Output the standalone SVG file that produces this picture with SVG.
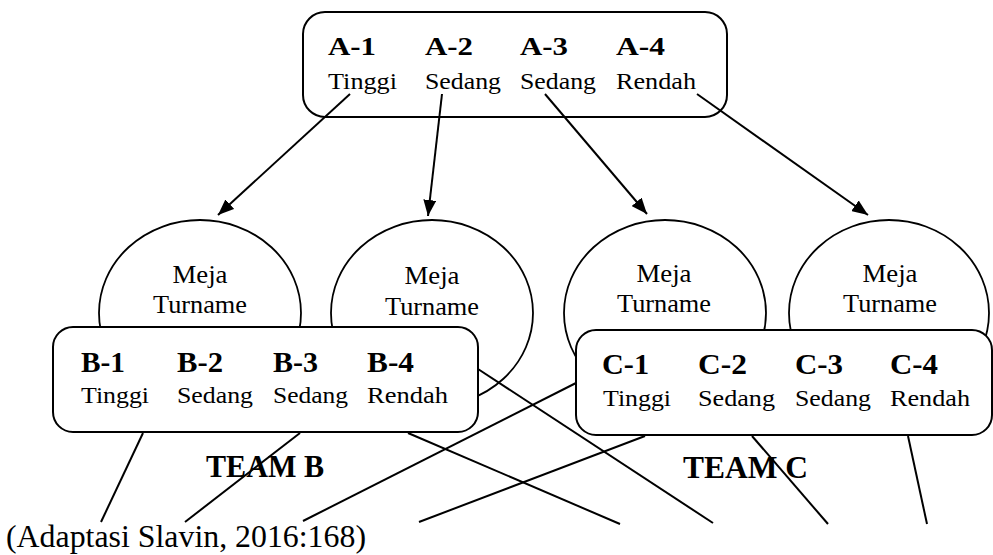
<svg xmlns="http://www.w3.org/2000/svg" width="993" height="555" viewBox="0 0 993 555">
<style>
.box{fill:#fff;stroke:#000;stroke-width:2}
.circ{fill:#fff;stroke:#000;stroke-width:1.8}
.b{font-family:"Liberation Serif","Times New Roman",serif;font-weight:bold;fill:#000}
.r{font-family:"Liberation Serif","Times New Roman",serif;fill:#000}
.ln{stroke:#000;stroke-width:2;fill:none}
.ar{stroke:#000;stroke-width:2;fill:none;marker-end:url(#ah)}
</style>
<defs>
<marker id="ah" markerUnits="userSpaceOnUse" markerWidth="17" markerHeight="13" refX="16" refY="6.5" orient="auto">
<path d="M0,0 L16,6.5 L0,13 z" fill="#000"/>
</marker>
</defs>
<rect width="993" height="555" fill="#fff"/>
<g id="meja1">
<ellipse class="circ" cx="200" cy="313" rx="101" ry="93"/>
<text class="r" x="200" y="283" font-size="25" text-anchor="middle" textLength="55" lengthAdjust="spacingAndGlyphs">Meja</text>
<text class="r" x="200" y="313" font-size="25" text-anchor="middle" textLength="94" lengthAdjust="spacingAndGlyphs">Turname</text>
</g>
<g id="meja2">
<ellipse class="circ" cx="432" cy="313" rx="101" ry="93"/>
<text class="r" x="432" y="284" font-size="25" text-anchor="middle" textLength="55" lengthAdjust="spacingAndGlyphs">Meja</text>
<text class="r" x="432" y="315" font-size="25" text-anchor="middle" textLength="94" lengthAdjust="spacingAndGlyphs">Turname</text>
</g>
<g id="meja3">
<ellipse class="circ" cx="665" cy="313" rx="101" ry="93"/>
<text class="r" x="664" y="282" font-size="25" text-anchor="middle" textLength="55" lengthAdjust="spacingAndGlyphs">Meja</text>
<text class="r" x="664" y="312" font-size="25" text-anchor="middle" textLength="94" lengthAdjust="spacingAndGlyphs">Turname</text>
</g>
<g id="meja4">
<ellipse class="circ" cx="889" cy="313" rx="100" ry="93"/>
<text class="r" x="890" y="282" font-size="25" text-anchor="middle" textLength="55" lengthAdjust="spacingAndGlyphs">Meja</text>
<text class="r" x="890" y="312" font-size="25" text-anchor="middle" textLength="94" lengthAdjust="spacingAndGlyphs">Turname</text>
</g>
<g id="teamA">
<rect class="box" x="303" y="12" width="424" height="105" rx="22"/>
<text class="b" x="328" y="55" font-size="25" textLength="48" lengthAdjust="spacingAndGlyphs">A-1</text>
<text class="b" x="425" y="55" font-size="25" textLength="48" lengthAdjust="spacingAndGlyphs">A-2</text>
<text class="b" x="520" y="55" font-size="25" textLength="48" lengthAdjust="spacingAndGlyphs">A-3</text>
<text class="b" x="616" y="55" font-size="25" textLength="49" lengthAdjust="spacingAndGlyphs">A-4</text>
<text class="r" x="328" y="89" font-size="23" textLength="69" lengthAdjust="spacingAndGlyphs">Tinggi</text>
<text class="r" x="425" y="89" font-size="23" textLength="76" lengthAdjust="spacingAndGlyphs">Sedang</text>
<text class="r" x="520" y="89" font-size="23" textLength="76" lengthAdjust="spacingAndGlyphs">Sedang</text>
<text class="r" x="616" y="89" font-size="23" textLength="80" lengthAdjust="spacingAndGlyphs">Rendah</text>
</g>
<g id="teamB">
<rect class="box" x="53" y="327" width="425" height="105" rx="20"/>
<text class="b" x="81" y="372" font-size="29" textLength="44" lengthAdjust="spacingAndGlyphs">B-1</text>
<text class="b" x="177" y="372" font-size="29" textLength="46" lengthAdjust="spacingAndGlyphs">B-2</text>
<text class="b" x="273" y="372" font-size="29" textLength="45" lengthAdjust="spacingAndGlyphs">B-3</text>
<text class="b" x="367" y="372" font-size="29" textLength="47" lengthAdjust="spacingAndGlyphs">B-4</text>
<text class="r" x="81" y="403" font-size="24" textLength="68" lengthAdjust="spacingAndGlyphs">Tinggi</text>
<text class="r" x="177" y="403" font-size="24" textLength="76" lengthAdjust="spacingAndGlyphs">Sedang</text>
<text class="r" x="273" y="403" font-size="24" textLength="75" lengthAdjust="spacingAndGlyphs">Sedang</text>
<text class="r" x="367" y="403" font-size="24" textLength="81" lengthAdjust="spacingAndGlyphs">Rendah</text>
</g>
<g id="teamC">
<rect class="box" x="576" y="330" width="416" height="105" rx="20"/>
<text class="b" x="602" y="374" font-size="29" textLength="47" lengthAdjust="spacingAndGlyphs">C-1</text>
<text class="b" x="698" y="374" font-size="29" textLength="49" lengthAdjust="spacingAndGlyphs">C-2</text>
<text class="b" x="795" y="374" font-size="29" textLength="48" lengthAdjust="spacingAndGlyphs">C-3</text>
<text class="b" x="890" y="374" font-size="29" textLength="48" lengthAdjust="spacingAndGlyphs">C-4</text>
<text class="r" x="603" y="406" font-size="24" textLength="68" lengthAdjust="spacingAndGlyphs">Tinggi</text>
<text class="r" x="698" y="406" font-size="24" textLength="77" lengthAdjust="spacingAndGlyphs">Sedang</text>
<text class="r" x="795" y="406" font-size="24" textLength="76" lengthAdjust="spacingAndGlyphs">Sedang</text>
<text class="r" x="890" y="406" font-size="24" textLength="80" lengthAdjust="spacingAndGlyphs">Rendah</text>
</g>
<g id="labels">
<text class="b" x="206" y="477" font-size="31" textLength="118" lengthAdjust="spacingAndGlyphs">TEAM B</text>
<text class="b" x="683" y="478" font-size="31" textLength="125" lengthAdjust="spacingAndGlyphs">TEAM C</text>
<text class="r" x="6" y="547" font-size="31" textLength="360" lengthAdjust="spacingAndGlyphs">(Adaptasi Slavin, 2016:168)</text>
</g>
<g id="connectors">
<line class="ar" x1="350" y1="94" x2="218" y2="215"/>
<line class="ar" x1="442" y1="94" x2="428" y2="216"/>
<line class="ar" x1="545" y1="94" x2="647" y2="214"/>
<line class="ar" x1="697" y1="94" x2="868" y2="215"/>
<line class="ln" x1="143" y1="433" x2="101" y2="522"/>
<line class="ln" x1="300" y1="433" x2="185" y2="522"/>
<line class="ln" x1="576" y1="383" x2="303" y2="521"/>
<line class="ln" x1="645" y1="436" x2="419" y2="522"/>
<line class="ln" x1="408" y1="433" x2="620" y2="524"/>
<line class="ln" x1="478" y1="369" x2="713" y2="523"/>
<line class="ln" x1="752" y1="436" x2="828" y2="524"/>
<line class="ln" x1="908" y1="436" x2="927" y2="524"/>
</g>
</svg>
